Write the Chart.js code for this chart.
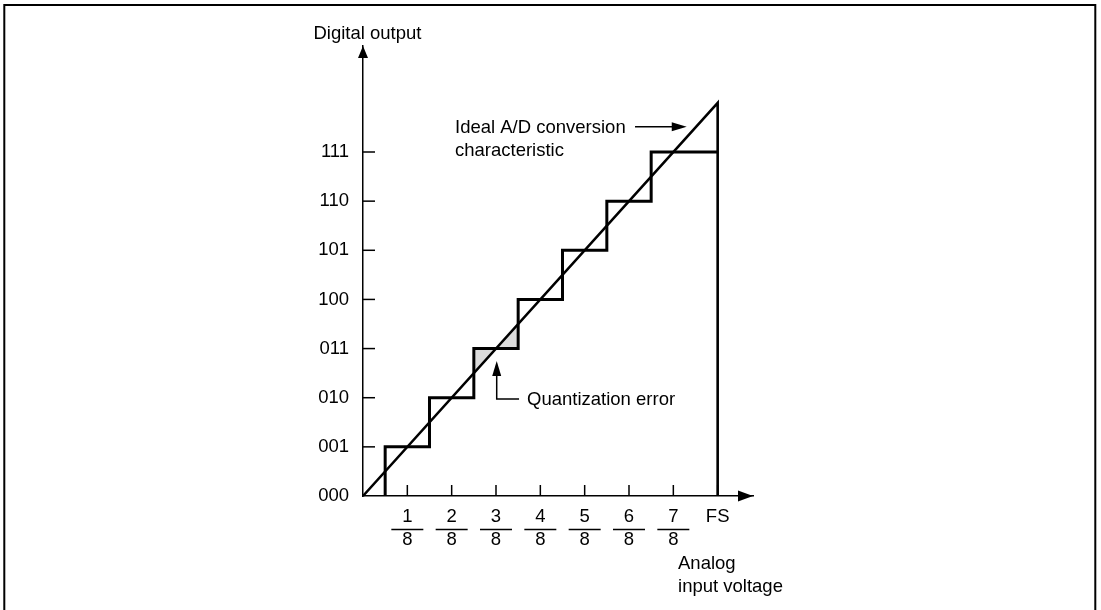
<!DOCTYPE html>
<html>
<head>
<meta charset="utf-8">
<script src="https://cdn.jsdelivr.net/npm/chart.js@4.4.0/dist/chart.umd.min.js"></script>
<style>
html,body{margin:0;padding:0;background:#fff;}
#c{display:block;}
</style>
</head>
<body>
<canvas id="c" width="1101" height="610"></canvas>
<script>
// ---- data ----
const xTickValues = [1, 2, 3, 4, 5, 6, 7, 8];
const xNumerators = ['1', '2', '3', '4', '5', '6', '7', 'FS'];
const xDenominator = '8';
const yTickValues = [0, 1, 2, 3, 4, 5, 6, 7];
const yTickLabels = ['000', '001', '010', '011', '100', '101', '110', '111'];

const idealX = [0, 8, 8];
const idealY = [0, 8, 0];

const stairX = [0.5, 0.5, 1.5, 1.5, 2.5, 2.5, 3.5, 3.5, 4.5, 4.5, 5.5, 5.5, 6.5, 6.5, 8];
const stairY = [0, 1, 1, 2, 2, 3, 3, 4, 4, 5, 5, 6, 6, 7, 7];

const errorX = [2.5, 3, 3.5];
const errorY = [2.5, 3, 3.5];
const errorLevel = 3;

const FONT = '"Liberation Sans", Arial, Helvetica, sans-serif';
const FS = 18.5;

function pts(xs, ys) { return xs.map((x, i) => ({x: x, y: ys[i]})); }

function arrowHead(ctx, tipX, tipY, dir, len, half) {
  ctx.beginPath();
  if (dir === 'right') {
    ctx.moveTo(tipX, tipY); ctx.lineTo(tipX - len, tipY - half); ctx.lineTo(tipX - len, tipY + half);
  } else if (dir === 'up') {
    ctx.moveTo(tipX, tipY); ctx.lineTo(tipX - half, tipY + len); ctx.lineTo(tipX + half, tipY + len);
  }
  ctx.closePath();
  ctx.fill();
}

const decor = {
  id: 'decor',
  afterDraw(chart) {
    const ctx = chart.ctx;
    const xs = chart.scales.x, ys = chart.scales.y;
    const ca = chart.chartArea;
    const X = v => xs.getPixelForValue(v);
    const Y = v => ys.getPixelForValue(v);
    ctx.save();
    ctx.strokeStyle = '#000';
    ctx.fillStyle = '#000';
    ctx.lineCap = 'butt';

    // outer frame (top, left, right)
    ctx.lineWidth = 2;
    ctx.beginPath();
    ctx.moveTo(4.3, 620); ctx.lineTo(4.3, 5); ctx.lineTo(1095.3, 5); ctx.lineTo(1095.3, 620);
    ctx.stroke();

    // inward tick marks
    ctx.lineWidth = 1.5;
    xTickValues.forEach(v => {
      ctx.beginPath(); ctx.moveTo(X(v), ca.bottom); ctx.lineTo(X(v), ca.bottom - 11); ctx.stroke();
    });
    yTickValues.forEach(v => {
      if (v === 0) return;
      ctx.beginPath(); ctx.moveTo(ca.left, Y(v)); ctx.lineTo(ca.left + 12, Y(v)); ctx.stroke();
    });

    // fraction bars
    ctx.lineWidth = 1.3;
    xTickValues.forEach((v, i) => {
      if (xNumerators[i] === 'FS') return;
      const y = ca.bottom + 33.5;
      ctx.beginPath(); ctx.moveTo(X(v) - 16, y); ctx.lineTo(X(v) + 16, y); ctx.stroke();
    });

    // axis arrow heads
    arrowHead(ctx, ca.right, ca.bottom, 'right', 15, 5.5);
    arrowHead(ctx, ca.left, ca.top, 'up', 12, 5);

    // texts
    ctx.font = FS + 'px ' + FONT;
    ctx.textBaseline = 'alphabetic';
    ctx.textAlign = 'left';
    ctx.fillText('Digital output', X(-1.117), Y(9.30));
    ctx.fillText('Ideal A/D conversion', X(2.075), Y(7.381));
    ctx.fillText('characteristic', X(2.075), Y(6.919));
    ctx.fillText('Quantization error', X(3.70), Y(1.852));
    ctx.fillText('Analog', X(7.106), Y(-1.49));
    ctx.fillText('input voltage', X(7.106), Y(-1.954));

    // annotation arrows
    ctx.lineWidth = 1.5;
    ctx.beginPath(); ctx.moveTo(X(6.136), Y(7.515)); ctx.lineTo(X(7.302) - 12, Y(7.515)); ctx.stroke();
    arrowHead(ctx, X(7.302), Y(7.515), 'right', 15, 4.5);

    ctx.beginPath();
    ctx.moveTo(X(3.52), Y(1.974)); ctx.lineTo(X(3.016), Y(1.974)); ctx.lineTo(X(3.016), Y(2.747) + 12);
    ctx.stroke();
    arrowHead(ctx, X(3.016), Y(2.747), 'up', 15, 4.5);

    ctx.restore();
  }
};

new Chart(document.getElementById('c'), {
  type: 'scatter',
  data: {
    datasets: [
      {
        label: 'Ideal A/D conversion characteristic',
        data: pts(idealX, idealY),
        showLine: true, borderColor: '#000', borderWidth: 2.6,
        borderJoinStyle: 'miter', pointRadius: 0, fill: false, clip: false, tension: 0
      },
      {
        label: 'Output code',
        data: pts(stairX, stairY),
        showLine: true, borderColor: '#000', borderWidth: 3,
        borderJoinStyle: 'miter', borderCapStyle: 'butt', pointRadius: 0, fill: false, clip: false, tension: 0
      },
      {
        label: 'Quantization error',
        data: pts(errorX, errorY),
        showLine: true, borderWidth: 0, borderColor: 'rgba(0,0,0,0)',
        backgroundColor: '#dcdcdc', pointRadius: 0, fill: {value: errorLevel}, clip: false, tension: 0
      }
    ]
  },
  options: {
    responsive: false,
    animation: false,
    devicePixelRatio: 1,
    layout: {padding: {top: 46, right: 348, left: 0, bottom: 0}},
    plugins: {
      legend: {display: false},
      tooltip: {enabled: false},
      filler: {drawTime: 'beforeDatasetsDraw'}
    },
    scales: {
      x: {
        type: 'linear', position: 'bottom', min: 0, max: 8.797,
        grid: {display: false, drawTicks: false},
        border: {display: true, color: '#000', width: 1.5},
        afterBuildTicks: s => { s.ticks = xTickValues.map(v => ({value: v})); },
        afterFit: s => { s.height = 114; },
        ticks: {
          autoSkip: false, maxRotation: 0, minRotation: 0, padding: 10,
          color: '#000', font: {family: FONT, size: FS, lineHeight: 1.23},
          callback: (v) => {
            const i = xTickValues.indexOf(v);
            return xNumerators[i] === 'FS' ? 'FS' : [xNumerators[i], xDenominator];
          }
        }
      },
      y: {
        type: 'linear', position: 'left', min: 0, max: 9.157,
        grid: {display: false, drawTicks: false},
        border: {display: true, color: '#000', width: 1.5},
        afterBuildTicks: s => { s.ticks = yTickValues.map(v => ({value: v})); },
        afterFit: s => { s.width = 363; },
        ticks: {
          autoSkip: false, padding: 14, color: '#000',
          font: {family: FONT, size: FS},
          callback: (v) => yTickLabels[yTickValues.indexOf(v)]
        }
      }
    }
  },
  plugins: [decor]
});
</script>
</body>
</html>
